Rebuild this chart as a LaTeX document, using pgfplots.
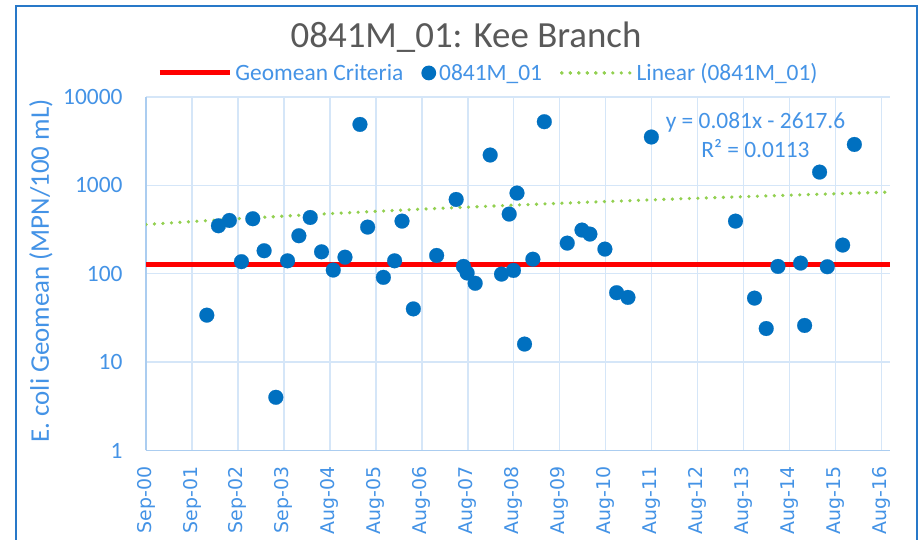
\documentclass[border=0pt]{standalone}
\usepackage{fontspec}
\setmainfont{Carlito}
\newfontfamily\dejavu{DejaVu Sans}
\usepackage{pgfplots}
\pgfplotsset{compat=1.18}
\definecolor{txtblue}{HTML}{4493E6}
\definecolor{markblue}{HTML}{0070C0}
\definecolor{axisblue}{HTML}{ABCDF0}
\definecolor{gridblue}{HTML}{D5E6F8}
\definecolor{borderblue}{HTML}{2878C8}
\definecolor{titlegray}{HTML}{595959}
\definecolor{lgreen}{HTML}{92D050}
\newcommand\xl[1]{{\dejavu\fontsize{19}{19}\selectfont #1}}
\pgfplotsset{
  redleg/.style={legend image code/.code={\draw[##1] (0bp,0bp) -- (70bp,0bp);}},
  dotleg/.style={legend image code/.code={\coordinate (lgA) at (0bp,0bp); \coordinate (lgB) at (70bp,0bp); \draw[##1, draw opacity=0, mark repeat=2, mark phase=2] plot coordinates {(0bp,0bp) (35bp,0bp) (70bp,0bp)};}},
  greenleg/.style={legend image code/.code={\draw[##1] (0bp,0bp) -- (48bp,0bp); \path (0bp,0bp) -- (70bp,0bp);}},
}
\begin{document}
\begin{tikzpicture}[x=1bp,y=1bp]
\path[use as bounding box] (0,0) rectangle (918,540);
\fill[white] (0,0) rectangle (918,540);
\begin{axis}[
  at={(146bp,89.5bp)}, anchor=south west,
  scale only axis, width=744bp, height=353.5bp,
  ymode=log, ymin=1, ymax=10000,
  xmin=36770, xmax=42678,
  axis x line*=bottom, axis y line*=left,
  axis line style={color=axisblue, line width=1.8bp, -},
  xtick={36770,37135,37500,37865,38230,38595,38960,39325,39690,40055,40420,40785,41150,41515,41880,42245,42610},
  xticklabels={\xl{Sep-00},\xl{Sep-01},\xl{Sep-02},\xl{Sep-03},\xl{Aug-04},\xl{Aug-05},\xl{Aug-06},\xl{Aug-07},\xl{Aug-08},\xl{Aug-09},\xl{Aug-10},\xl{Aug-11},\xl{Aug-12},\xl{Aug-13},\xl{Aug-14},\xl{Aug-15},\xl{Aug-16}},
  ytick={1,10,100,1000,10000},
  yticklabels={1,10,100,1000,10000},
  minor ytick={},
  major tick length=0pt, minor tick length=0pt,
  xmajorgrids, ymajorgrids,
  major grid style={color=gridblue, line width=1.5bp},
  /pgf/number format/assume math mode=true,
  xticklabel style={rotate=90, anchor=east, text=txtblue, inner sep=2bp},
  xticklabel shift=14bp,
  yticklabel style={font=\fontsize{23.5}{24}\selectfont, text=txtblue},
  yticklabel shift=20bp,
  ylabel={E. coli Geomean (MPN/100 mL)},
  ylabel style={at={(axis description cs:-0.1304,0.508)}, anchor=base, font=\fontsize{27}{28}\selectfont, text=txtblue},
  legend style={at={(axis description cs:0.459,1.068)}, anchor=center, draw=none, fill=none,
    font=\fontsize{23.5}{24}\selectfont, text=txtblue, inner sep=0pt, nodes={inner sep=0pt},
    /tikz/every odd column/.append style={column sep=3bp},
    /tikz/every even column/.append style={column sep=18bp}},
  legend columns=3,
  legend cell align=left,
]
\addplot[red, line width=5bp, redleg]
  coordinates {(36770,126) (42678,126)};
\addlegendentry{Geomean Criteria}
\addplot[only marks, mark=*, color=markblue, mark size=7.4bp,
  mark options={fill=markblue, draw=markblue, line width=0.2bp}, dotleg]
  table {
x y
37253 34
37345 349
37432 401
37528 137
37618 419
37708 182
37801 4
37894 140
37984 269
38074 433
38164 177
38257 110
38350 154
38469 4894
38530 337
38655 91
38744 140
38803 394
38893 40
39078 161
39233 693
39291 121
39320 102
39384 78
39503 2204
39593 99
39654 473
39688 109
39716 818
39776 16
39842 146
39933 5250
40115 222
40232 312
40295 281
40414 190
40507 61
40597 54
40783 3524
41451 394
41602 53
41695 24
41788 121
41968 132
42000 26
42119 1413
42180 120
42302 211
42395 2904
};
\addlegendentry{0841M\_01}
\addplot[color=lgreen, line width=3.6bp, line cap=round, dash pattern=on 0bp off 8.5bp, greenleg]
  coordinates {(36770,360.8) (37500,419.9) (38200,476.6) (38900,533.3) (39600,590.0) (40300,646.7) (41000,703.4) (41700,760.1) (42400,816.8) (42678,839.3)};
\addlegendentry{Linear (0841M\_01)}
\end{axis}
\node[anchor=base, font=\fontsize{37}{40}\selectfont, text=titlegray] at (466,492) {0841M\_01: Kee Branch};
\node[anchor=base, font=\fontsize{23.5}{24}\selectfont, text=txtblue] at (755.5,411) {y = 0.081x - 2617.6};
\node[anchor=base, font=\fontsize{23.5}{24}\selectfont, text=txtblue] at (755.5,382) {R² = 0.0113};
\draw[borderblue, line width=2bp] (16,0) -- (16,534) -- (916.5,534) -- (916.5,0);
\end{tikzpicture}
\end{document}
